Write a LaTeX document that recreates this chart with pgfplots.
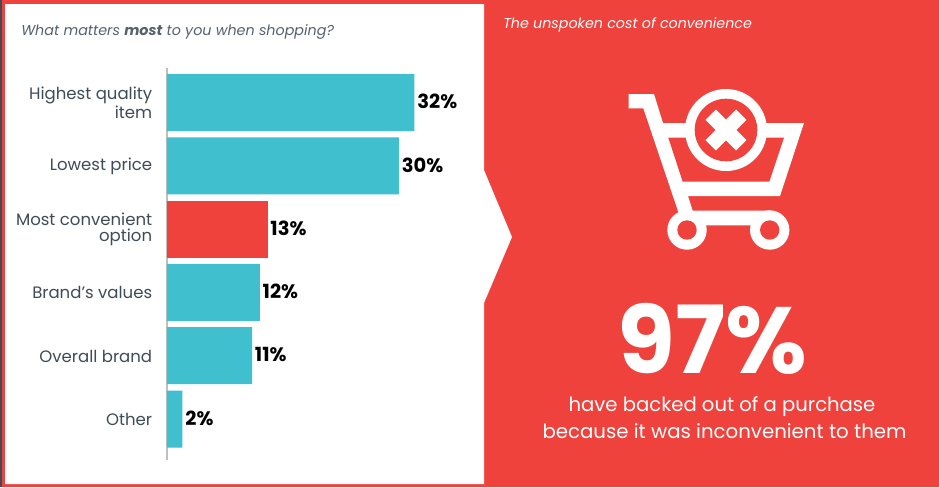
\documentclass[border=0pt]{standalone}
\usepackage{pgfplots}
\pgfplotsset{compat=1.18}
\usepackage{fontspec}
\setmainfont{Poppins}
\definecolor{cred}{HTML}{EF423D}
\definecolor{cteal}{HTML}{40BFCF}
\definecolor{cslate}{HTML}{3F4B57}
\definecolor{ctitle}{HTML}{55616E}
\begin{document}
\begin{tikzpicture}
\begin{scope}[x=.75pt,y=-.75pt]
\path[use as bounding box] (0,0) rectangle (939,487);
\fill[cred] (0,0) rectangle (939,487);
\fill[cslate] (0,0) rectangle (1.5,487);
\fill[white] (5,4) -- (484,4) -- (484,170) -- (512,237) -- (484,303) -- (484,484) -- (5,484) -- cycle;
\node[anchor=west,inner sep=0pt,text=ctitle,font=\fontsize{10.73}{12}\selectfont\itshape] at (21,31.5) {What matters \textbf{most} to you when shopping?};
\node[anchor=west,inner sep=0pt,text=white,font=\fontsize{10.7}{12}\selectfont\itshape] at (503,25) {The unspoken cost of convenience};
% cart
\fill[white] (628.5,94) -- (654,94) -- (663,123) -- (804,123) -- (780,196) -- (688,196) -- (692.7,210.7) -- (770,210.7) -- (770,225.3) -- (687,225.3) -- (678.3,212) -- (643.3,108.3) -- (628.5,108.3) -- cycle;
\fill[cred] (668.3,137.7) -- (784,137.7) -- (769.3,181.7) -- (682.7,181.7) -- cycle;
\fill[white] (726,130) circle[radius=41];
\fill[cred] (726,130) circle[radius=31.3];
\draw[white,line width=10.95pt] (710.7,114.7) -- (741.3,145.3);
\draw[white,line width=10.95pt] (710.7,145.3) -- (741.3,114.7);
\fill[white] (687,230) circle[radius=19.7];
\fill[cred] (687,230) circle[radius=9.7];
\fill[white] (769.7,230) circle[radius=19.7];
\fill[cred] (769.7,230) circle[radius=9.7];
\node[inner sep=0pt,text=white,font=\fontsize{70.5}{60}\selectfont\bfseries] at (712.5,339) {97\%};
\node[inner sep=0pt,text=white,font=\fontsize{14.7}{16}\selectfont] at (722,407) {have backed out of a purchase};
\node[inner sep=0pt,text=white,font=\fontsize{14.8}{16}\selectfont] at (724.5,431.5) {because it was inconvenient to them};
\end{scope}
\begin{axis}[
  at={(125.25pt,-51pt)},anchor=north west,scale only axis,
  width=225pt,height=294pt,
  xbar,bar shift=0pt,bar width=42.75pt,
  xmin=0,xmax=38.8,ymin=-0.545,ymax=5.648,y dir=reverse,
  axis x line=none,
  axis y line*=left,
  y axis line style={draw=black!25,line width=1pt,-},
  major tick length=0pt,
  ytick={0,1,2,3,4,5},
  yticklabels={{Highest quality\\item},{Lowest price},{Most convenient\\option},{Brand's values},{Overall brand},{Other}},
  yticklabel style={align=right,text=cslate,font=\fontsize{12.4}{12}\selectfont,xshift=-7.6pt,yshift=-0.2pt},
  nodes near coords={\pgfmathprintnumber[assume math mode=true]{\pgfplotspointmeta}\%},
  nodes near coords align={horizontal},
  nodes near coords style={font=\fontsize{14.6}{15}\selectfont\bfseries,text=black,inner sep=2pt,yshift=0.6pt},
  point meta=x,
  clip=false,
]
\addplot[fill=cteal,draw=none] coordinates {(32,0) (30,1) (12,3) (11,4) (2,5)};
\addplot[fill=cred,draw=none] coordinates {(13,2)};
\end{axis}
\end{tikzpicture}
\end{document}
